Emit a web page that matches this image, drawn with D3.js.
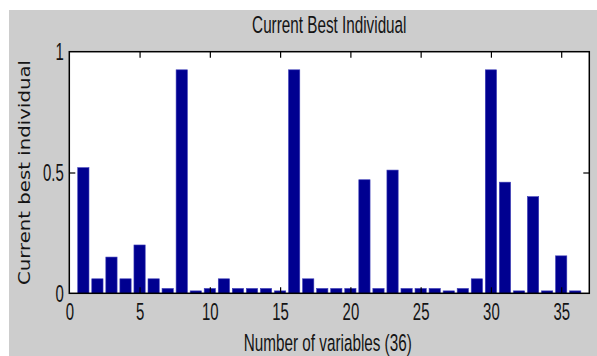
<!DOCTYPE html>
<html>
<head>
<meta charset="utf-8">
<script src="https://cdnjs.cloudflare.com/ajax/libs/d3/7.8.5/d3.min.js"></script>
<style>
  html, body { margin: 0; padding: 0; background: #ffffff; }
  svg { display: block; }
</style>
</head>
<body>
<script>
// Index of each variable in the best individual
const variables = d3.range(1, 37);
// Gene value of the current best individual for each variable
const bestValues = [
  0.52, 0.06, 0.15, 0.06, 0.20, 0.06, 0.02, 0.925, 0.01, 0.02,
  0.06, 0.02, 0.02, 0.02, 0.01, 0.925, 0.06, 0.02, 0.02, 0.02,
  0.47, 0.02, 0.51, 0.02, 0.02, 0.02, 0.01, 0.02, 0.06, 0.925,
  0.46, 0.01, 0.40, 0.01, 0.155, 0.01
];
const xTicks = [0, 5, 10, 15, 20, 25, 30, 35];
const yTicks = [0, 0.5, 1];
const yTickLabels = ["0", "0.5", "1"];

const W = 597, H = 356;
const SQ = 0.65; // horizontal squeeze applied to all lettering
const FONT = "'Liberation Sans', Arial, sans-serif";
const INK = "#141414";

const svg = d3.select("body").append("svg")
  .attr("width", W).attr("height", H);

// figure background
svg.append("rect")
  .attr("x", 9).attr("y", 10).attr("width", W - 9).attr("height", H - 10)
  .attr("fill", "#cdcdcd");

const x = d3.scaleLinear().domain([0, 37]).range([69.3, 589.3]);
const y = d3.scaleLinear().domain([0, 1]).range([293.3, 51.7]);

// axes area
svg.append("rect")
  .attr("x", x(0)).attr("y", y(1))
  .attr("width", x(37) - x(0)).attr("height", y(0) - y(1))
  .attr("fill", "#ffffff");

// bars
const barW = x(0.8) - x(0);
svg.append("g").selectAll("rect")
  .data(variables)
  .join("rect")
  .attr("x", (d) => x(d) - barW / 2)
  .attr("y", (d, i) => y(bestValues[i]))
  .attr("width", barW)
  .attr("height", (d, i) => y(0) - y(bestValues[i]))
  .attr("fill", "#000090")
  .attr("stroke", "#3d3db8")
  .attr("stroke-width", 0.6);

// inward ticks on all four sides
const TL = 6;
const gB = svg.append("g").attr("transform", `translate(0,${y(0)})`)
  .call(d3.axisBottom(x).tickValues(xTicks).tickSizeInner(-TL).tickSizeOuter(0)
    .tickPadding(9).tickFormat(d3.format("d")));
const gT = svg.append("g").attr("transform", `translate(0,${y(1)})`)
  .call(d3.axisTop(x).tickValues(xTicks).tickSizeInner(-TL).tickSizeOuter(0).tickFormat(""));
const gL = svg.append("g").attr("transform", `translate(${x(0)},0)`)
  .call(d3.axisLeft(y).tickValues(yTicks).tickSizeInner(-TL).tickSizeOuter(0)
    .tickFormat((d, i) => yTickLabels[i]));
const gR = svg.append("g").attr("transform", `translate(${x(37)},0)`)
  .call(d3.axisRight(y).tickValues(yTicks).tickSizeInner(-TL).tickSizeOuter(0).tickFormat(""));

[gB, gT, gL, gR].forEach((g) => {
  g.select(".domain").remove();
  g.selectAll(".tick line").attr("stroke", "#000").attr("stroke-width", 1.2);
});
gT.selectAll(".tick").filter((d) => d === 0).remove();
gB.selectAll(".tick line").filter((d) => d === 0).remove();
gL.selectAll(".tick line").filter((d) => d === 0 || d === 1).remove();
gR.selectAll(".tick line").filter((d) => d === 0 || d === 1).remove();

gB.selectAll(".tick text")
  .attr("font-family", FONT).attr("font-size", 23).attr("fill", INK)
  .attr("y", 10).attr("dy", "0.71em")
  .attr("transform", `scale(${SQ},1)`);
gL.selectAll(".tick text")
  .attr("font-family", FONT).attr("font-size", 23).attr("fill", INK)
  .attr("x", -5.5 / SQ).attr("dy", "0.35em")
  .attr("transform", `scale(${SQ},1)`);

// axes box
svg.append("rect")
  .attr("x", x(0)).attr("y", y(1))
  .attr("width", x(37) - x(0)).attr("height", y(0) - y(1))
  .attr("fill", "none").attr("stroke", "#000").attr("stroke-width", 1.5);

// title
svg.append("text")
  .attr("transform", `translate(${(x(0) + x(37)) / 2},33) scale(${SQ},1)`)
  .attr("text-anchor", "middle")
  .attr("font-family", FONT).attr("font-size", 23.5).attr("fill", INK)
  .text("Current Best Individual");

// x label
svg.append("text")
  .attr("transform", `translate(${(x(0) + x(37)) / 2 - 1.5},351) scale(${SQ},1)`)
  .attr("text-anchor", "middle")
  .attr("font-family", FONT).attr("font-size", 23.5).attr("fill", INK)
  .text("Number of variables (36)");

// y label
svg.append("text")
  .attr("transform", `translate(30,172.5) scale(${SQ},1) rotate(-90)`)
  .attr("text-anchor", "middle")
  .attr("font-family", "'DejaVu Sans', Verdana, sans-serif")
  .attr("font-size", 25).attr("fill", INK)
  .attr("textLength", 225).attr("lengthAdjust", "spacingAndGlyphs")
  .text("Current best individual");
</script>
</body>
</html>
